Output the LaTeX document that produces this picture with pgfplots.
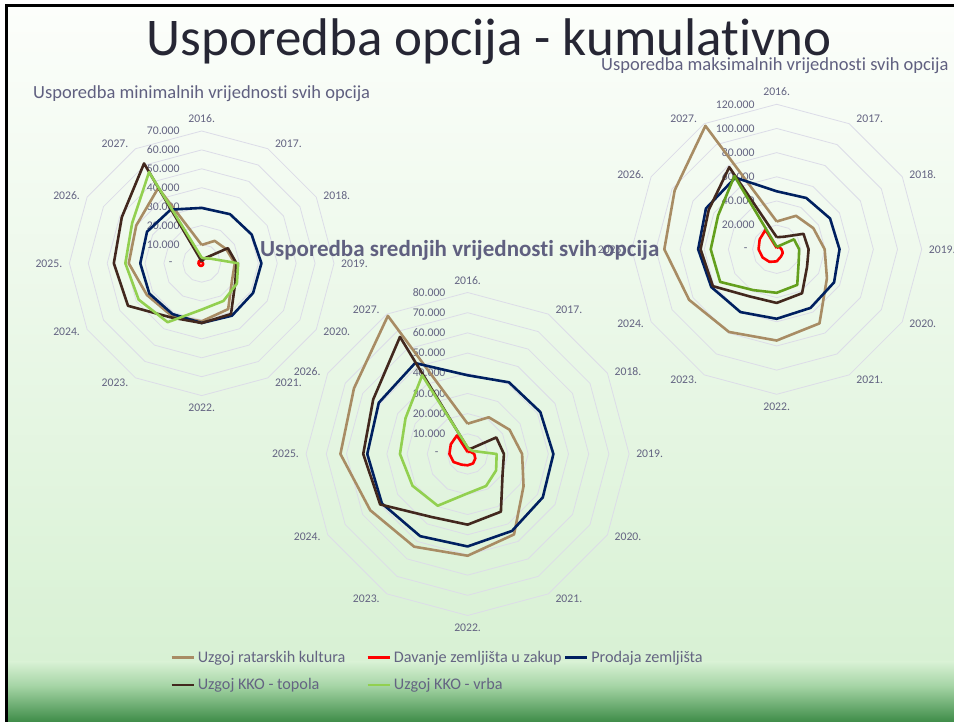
\documentclass[border=0pt]{standalone}
\usepackage{fontspec}
\setmainfont{Carlito}[RawFeature={-liga;-dlig;-clig}]
\usepackage{pgfplots}
\usepackage{pgfplotstable}
\pgfplotsset{compat=1.18}
\usepgfplotslibrary{polar}

\definecolor{tanc}{RGB}{168,140,100}
\definecolor{redc}{RGB}{255,0,0}
\definecolor{navyc}{RGB}{0,32,96}
\definecolor{brownc}{RGB}{66,40,30}
\definecolor{greenc}{RGB}{146,208,80}
\definecolor{greendk}{RGB}{100,160,30}
\definecolor{gridc}{RGB}{220,220,232}
\definecolor{labc}{RGB}{100,100,130}
\definecolor{subc}{RGB}{96,96,128}
\definecolor{titc}{RGB}{38,38,52}
\definecolor{bgtop}{RGB}{252,254,251}
\definecolor{bgmid}{RGB}{216,241,212}
\definecolor{bgband}{RGB}{165,212,165}
\definecolor{bgbot}{RGB}{62,140,72}

\tikzset{
  srat/.style={color=tanc, line width=2.6pt, line join=round},
  szak/.style={color=redc, line width=2.6pt, line join=round},
  spro/.style={color=navyc, line width=2.6pt, line join=round},
  stop/.style={color=brownc, line width=2.6pt, line join=round},
  svrb/.style={color=greenc, line width=2.6pt, line join=round},
  svrbd/.style={color=greendk, line width=2.6pt, line join=round},
  gridl/.style={color=gridc, line width=0.8pt},
  cat/.style={font=\fontsize{11.7}{13}\selectfont, text=labc, inner sep=0pt},
  val/.style={font=\fontsize{11.7}{13}\selectfont, text=labc, inner sep=0pt, anchor=east, xshift=-22pt},
}

% year angle ratarske zakup prodaja topola vrba
\pgfplotstableread{
yr a rat zak pro top vrb
2016 90 9700 300 29300 1000 3000
2017 60 13700 400 30000 3000 3000
2018 30 15000 500 30500 16000 5000
2019 0 17500 700 31600 18400 19300
2020 -30 18500 900 31400 20500 21500
2021 -60 28000 1100 32000 31000 23000
2022 -90 30700 1300 31600 31600 24500
2023 -120 32000 1500 31000 33000 36000
2024 -150 33500 1600 32000 45000 38500
2025 180 38600 1700 32500 46500 40400
2026 150 40000 1800 33400 48800 42500
2027 120 46000 1900 32800 61000 55700
2016 90 9700 300 29300 1000 3000
}\minT

\pgfplotstableread{
yr a rat zak pro top vrb
2016 90 15000 1000 39000 3000 3300
2017 60 21000 1200 41000 3000 2500
2018 30 24000 2000 41600 16400 3000
2019 0 27000 3300 42500 18000 14400
2020 -30 32000 4400 43000 20000 16300
2021 -60 46000 5400 44000 33000 18300
2022 -90 50400 5600 45800 35000 19500
2023 -120 53000 6100 47000 36000 29600
2024 -150 55700 8000 49000 50000 31500
2025 180 63000 9000 49700 51700 33500
2026 150 65000 9600 50800 54000 35500
2027 120 79000 10600 52000 67000 45000
2016 90 15000 1000 39000 3000 3300
}\meanT

\pgfplotstableread{
yr a rat zak pro top vrb
2016 90 23000 1000 48000 10000 2000
2017 60 32000 2000 49000 12000 3000
2018 30 35000 3000 51000 25600 16500
2019 0 39700 4000 52000 26400 18600
2020 -30 48000 5800 54800 29000 21000
2021 -60 70800 7000 56000 42000 34000
2022 -90 75500 10000 57500 44400 36000
2023 -120 79000 12000 60000 45000 39000
2024 -150 83700 13500 62500 61000 54000
2025 180 93000 15000 65000 63000 54600
2026 150 97500 16300 67600 65000 56000
2027 120 118000 18600 68500 78500 70000
2016 90 23000 1000 48000 10000 2000
}\maxT

\newcommand{\ring}[1]{\addplot[gridl, forget plot] coordinates {(90,#1)(60,#1)(30,#1)(0,#1)(-30,#1)(-60,#1)(-90,#1)(-120,#1)(-150,#1)(180,#1)(150,#1)(120,#1)(90,#1)};}
\newcommand{\catlabels}[1]{%
 \node[cat,anchor=south,yshift=8pt] at (axis cs:90,#1) {2016.};
 \node[cat,anchor=west,xshift=7pt,yshift=4.5pt] at (axis cs:60,#1) {2017.};
 \node[cat,anchor=west,xshift=7pt,yshift=2pt] at (axis cs:30,#1) {2018.};
 \node[cat,anchor=west,xshift=7pt] at (axis cs:0,#1) {2019.};
 \node[cat,anchor=west,xshift=7pt,yshift=-2pt] at (axis cs:-30,#1) {2020.};
 \node[cat,anchor=west,xshift=7pt,yshift=-4.5pt] at (axis cs:-60,#1) {2021.};
 \node[cat,anchor=north,yshift=-8pt] at (axis cs:-90,#1) {2022.};
 \node[cat,anchor=east,xshift=-7pt,yshift=-4.5pt] at (axis cs:-120,#1) {2023.};
 \node[cat,anchor=east,xshift=-7pt,yshift=-2pt] at (axis cs:-150,#1) {2024.};
 \node[cat,anchor=east,xshift=-7pt] at (axis cs:180,#1) {2025.};
 \node[cat,anchor=east,xshift=-7pt,yshift=2pt] at (axis cs:150,#1) {2026.};
 \node[cat,anchor=east,xshift=-7pt,yshift=4.5pt] at (axis cs:120,#1) {2027.};
}
\newcommand{\series}[2]{%
 \addplot[srat] table[x=a,y=rat]{#1};
 \addplot[szak] table[x=a,y=zak]{#1};
 \addplot[spro] table[x=a,y=pro]{#1};
 \addplot[stop] table[x=a,y=top]{#1};
 \addplot[#2] table[x=a,y=vrb]{#1};
}
\pgfplotsset{radar/.style={anchor=origin, hide axis, scale only axis, xmin=0, xmax=360, ymin=0, clip=false}}

\begin{document}
\begin{tikzpicture}[x=1pt,y=1pt]
\useasboundingbox (0,0) rectangle (954,722);
\clip (0,0) rectangle (954,722);
\fill[white] (0,0) rectangle (954,722);
\shade[top color=bgtop, bottom color=bgmid] (7,60) rectangle (954,716);
\shade[top color=bgmid, bottom color=bgband] (7,36) rectangle (954,60.2);
\shade[top color=bgband, bottom color=bgbot] (7,0) rectangle (954,36.2);
\fill[black] (4.5,0) rectangle (7.5,717.5);
\fill[black] (4.5,715) rectangle (954,717.5);

% minimum chart
\begin{polaraxis}[radar, at={(201.7pt,458.7pt)}, width=264.6pt, height=264.6pt, ymax=70000]
\ring{10000}\ring{20000}\ring{30000}\ring{40000}\ring{50000}\ring{60000}\ring{70000}
\catlabels{70000}
\node[val] at (axis cs:90,70000) {70.000};
\node[val] at (axis cs:90,60000) {60.000};
\node[val] at (axis cs:90,50000) {50.000};
\node[val] at (axis cs:90,40000) {40.000};
\node[val] at (axis cs:90,30000) {30.000};
\node[val] at (axis cs:90,20000) {20.000};
\node[val] at (axis cs:90,10000) {10.000};
\node[val,xshift=-7pt] at (axis cs:90,0) {-};
\series{\minT}{svrb}
\end{polaraxis}

% maximum chart
\begin{polaraxis}[radar, at={(776.7pt,472.7pt)}, width=290pt, height=290pt, ymax=120000]
\ring{20000}\ring{40000}\ring{60000}\ring{80000}\ring{100000}\ring{120000}
\catlabels{120000}
\node[val] at (axis cs:90,120000) {120.000};
\node[val] at (axis cs:90,100000) {100.000};
\node[val] at (axis cs:90,80000) {80.000};
\node[val] at (axis cs:90,60000) {60.000};
\node[val] at (axis cs:90,40000) {40.000};
\node[val] at (axis cs:90,20000) {20.000};
\node[val,xshift=-7pt] at (axis cs:90,0) {-};
\series{\maxT}{svrbd}
\end{polaraxis}

% mean chart
\begin{polaraxis}[radar, at={(467.6pt,268pt)}, width=323pt, height=323pt, ymax=80000]
\ring{10000}\ring{20000}\ring{30000}\ring{40000}\ring{50000}\ring{60000}\ring{70000}\ring{80000}
\catlabels{80000}
\node[val] at (axis cs:90,80000) {80.000};
\node[val] at (axis cs:90,70000) {70.000};
\node[val] at (axis cs:90,60000) {60.000};
\node[val] at (axis cs:90,50000) {50.000};
\node[val] at (axis cs:90,40000) {40.000};
\node[val] at (axis cs:90,30000) {30.000};
\node[val] at (axis cs:90,20000) {20.000};
\node[val] at (axis cs:90,10000) {10.000};
\node[val,xshift=-7pt] at (axis cs:90,0) {-};
\series{\meanT}{svrb}
\end{polaraxis}

% legend
\begin{axis}[at={(0pt,0pt)}, anchor=south west, scale only axis, width=954pt, height=722pt,
  xmin=0, xmax=954, ymin=0, ymax=722, hide axis,
  legend columns=3, legend cell align=left,
  legend image code/.code={\draw[#1] (0pt,0pt) -- (22pt,0pt);},
  legend style={at={(0.1782,0.0996)}, anchor=north west, draw=none, fill=none,
    inner sep=0pt, row sep=12.5pt,
    font=\fontsize{16.2}{18}\selectfont, text=labc,
    nodes={inner sep=1pt},
    /tikz/column 1/.style={column sep=2pt},
    /tikz/column 2/.style={column sep=20pt},
    /tikz/column 3/.style={column sep=2pt},
    /tikz/column 4/.style={column sep=1pt},
    /tikz/column 5/.style={column sep=2pt}}]
\addlegendimage{srat}\addlegendentry{Uzgoj ratarskih kultura}
\addlegendimage{szak}\addlegendentry{Davanje zemljišta u zakup}
\addlegendimage{spro}\addlegendentry{Prodaja zemljišta}
\addlegendimage{stop}\addlegendentry{Uzgoj KKO - topola}
\addlegendimage{svrb}\addlegendentry{Uzgoj KKO - vrba}
\end{axis}

% titles
\node[anchor=base, text=titc, font=\fontsize{53}{60}\selectfont, inner sep=0pt] at (489,666) {Usporedba opcija - kumulativno};
\node[anchor=base west, text=subc, font=\fontsize{18.5}{22}\selectfont, inner sep=0pt] at (33,623) {Usporedba minimalnih vrijednosti svih opcija};
\node[anchor=base west, text=subc, font=\fontsize{18.5}{22}\selectfont, inner sep=0pt] at (601,651.3) {Usporedba maksimalnih vrijednosti svih opcija};
\node[anchor=base west, text=subc, font=\bfseries\fontsize{23}{26}\selectfont, inner sep=0pt] at (260,465) {Usporedba srednjih vrijednosti svih opcija};
\end{tikzpicture}
\end{document}
